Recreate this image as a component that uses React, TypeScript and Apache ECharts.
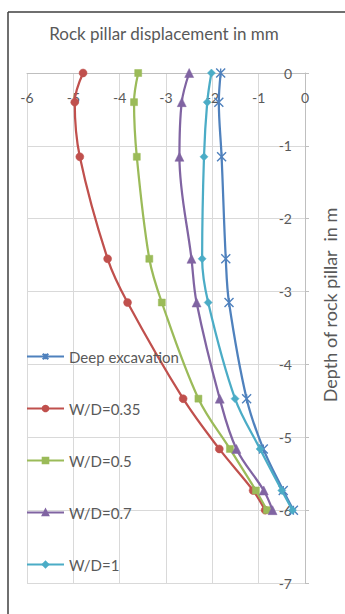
import React, { useEffect, useRef } from "react";
import * as echarts from "echarts";

const depths = [0, -0.4, -1.15, -2.55, -3.15, -4.47, -5.16, -5.73, -6];
const deepExcavation = [-1.82, -1.86, -1.8, -1.71, -1.64, -1.26, -0.9, -0.47, -0.25];
const wd035 = [-4.79, -4.97, -4.86, -4.26, -3.83, -2.63, -1.85, -1.12, -0.86];
const wd05 = [-3.6, -3.69, -3.63, -3.36, -3.09, -2.3, -1.62, -1.06, -0.82];
const wd07 = [-2.5, -2.66, -2.71, -2.45, -2.34, -1.84, -1.48, -0.89, -0.7];
const wd1 = [-2.02, -2.11, -2.18, -2.22, -2.09, -1.51, -0.97, -0.5, -0.27];

const seriesNames = ["Deep excavation", "W/D=0.35", "W/D=0.5", "W/D=0.7", "W/D=1"];
const seriesValues = [deepExcavation, wd035, wd05, wd07, wd1];
const colors = ["#4F81BD", "#C0504D", "#9BBB59", "#8064A2", "#4BACC6"];
const symbols = [
  "path://M0,0L10,10M10,0L0,10M5,0L5,10",
  "circle",
  "rect",
  "triangle",
  "diamond",
];
const symbolSizes = [9, 8, 7, 9, 8];

const FONT = "Lato, 'Open Sans', sans-serif";
const TEXT = "#595959";

export default function App() {
  const ref = useRef<HTMLDivElement>(null);
  useEffect(() => {
    document.body.style.margin = "0";
    if (!ref.current) return;
    const chart = echarts.init(ref.current, null, { renderer: "svg" });
    const series = seriesNames.map((name, i) => ({
      name,
      type: "line",
      smooth: 0.35,
      data: seriesValues[i].map((v, k) => [v, depths[k]]),
      symbol: symbols[i],
      symbolSize: symbolSizes[i],
      showSymbol: true,
      lineStyle: { color: colors[i], width: 2.25 },
      itemStyle: { color: colors[i], borderColor: colors[i], borderWidth: i === 0 ? 1.4 : 0.5 },
      z: 2 + i,
    }));
    chart.setOption({
      animation: false,
      backgroundColor: "#ffffff",
      grid: { left: 27, right: 40, top: 73, bottom: 31, containLabel: false },
      legend: {
        orient: "vertical",
        left: 21,
        top: 344,
        itemWidth: 37,
        itemHeight: 7,
        itemGap: 37,
        data: seriesNames,
        textStyle: { color: TEXT, fontSize: 15, fontFamily: FONT },
        backgroundColor: "transparent",
      },
      xAxis: {
        type: "value",
        position: "top",
        min: -6,
        max: 0,
        interval: 1,
        axisLine: { show: true, onZero: false, lineStyle: { color: "#bfbfbf", width: 1 } },
        axisTick: { show: false },
        axisLabel: { inside: true, margin: 17, color: TEXT, fontSize: 14, fontFamily: FONT },
        splitLine: { show: true, lineStyle: { color: "#d9d9d9", width: 1 } },
      },
      yAxis: {
        type: "value",
        position: "right",
        min: -7,
        max: 0,
        interval: 1,
        axisLine: { show: true, onZero: false, lineStyle: { color: "#bfbfbf", width: 1 } },
        axisTick: { show: true, length: 4, lineStyle: { color: "#bfbfbf" } },
        axisLabel: { inside: true, margin: 13, color: TEXT, fontSize: 14, fontFamily: FONT },
        splitLine: { show: true, lineStyle: { color: "#d9d9d9", width: 1 } },
      },
      graphic: [
        {
          type: "text",
          x: 164,
          y: 33,
          style: {
            text: "Rock pillar displacement in mm",
            fill: TEXT,
            font: `17px ${FONT}`,
            align: "center",
            verticalAlign: "middle",
          },
        },
        {
          type: "text",
          x: 330,
          y: 305,
          rotation: Math.PI / 2,
          style: {
            text: "Depth of rock pillar  in m",
            fill: TEXT,
            font: `18px ${FONT}`,
            align: "center",
            verticalAlign: "middle",
          },
        },
        {
          type: "line",
          shape: { x1: 8, y1: 12, x2: 345, y2: 12 },
          style: { stroke: "#3f3f3f", lineWidth: 1.5 },
        },
        {
          type: "line",
          shape: { x1: 8, y1: 12, x2: 8, y2: 614 },
          style: { stroke: "#3f3f3f", lineWidth: 1.5 },
        },
      ],
      series,
    });
    return () => chart.dispose();
  }, []);
  return (
    <div
      ref={ref}
      style={{ position: "absolute", left: 0, top: 0, width: 345, height: 614 }}
    />
  );
}
